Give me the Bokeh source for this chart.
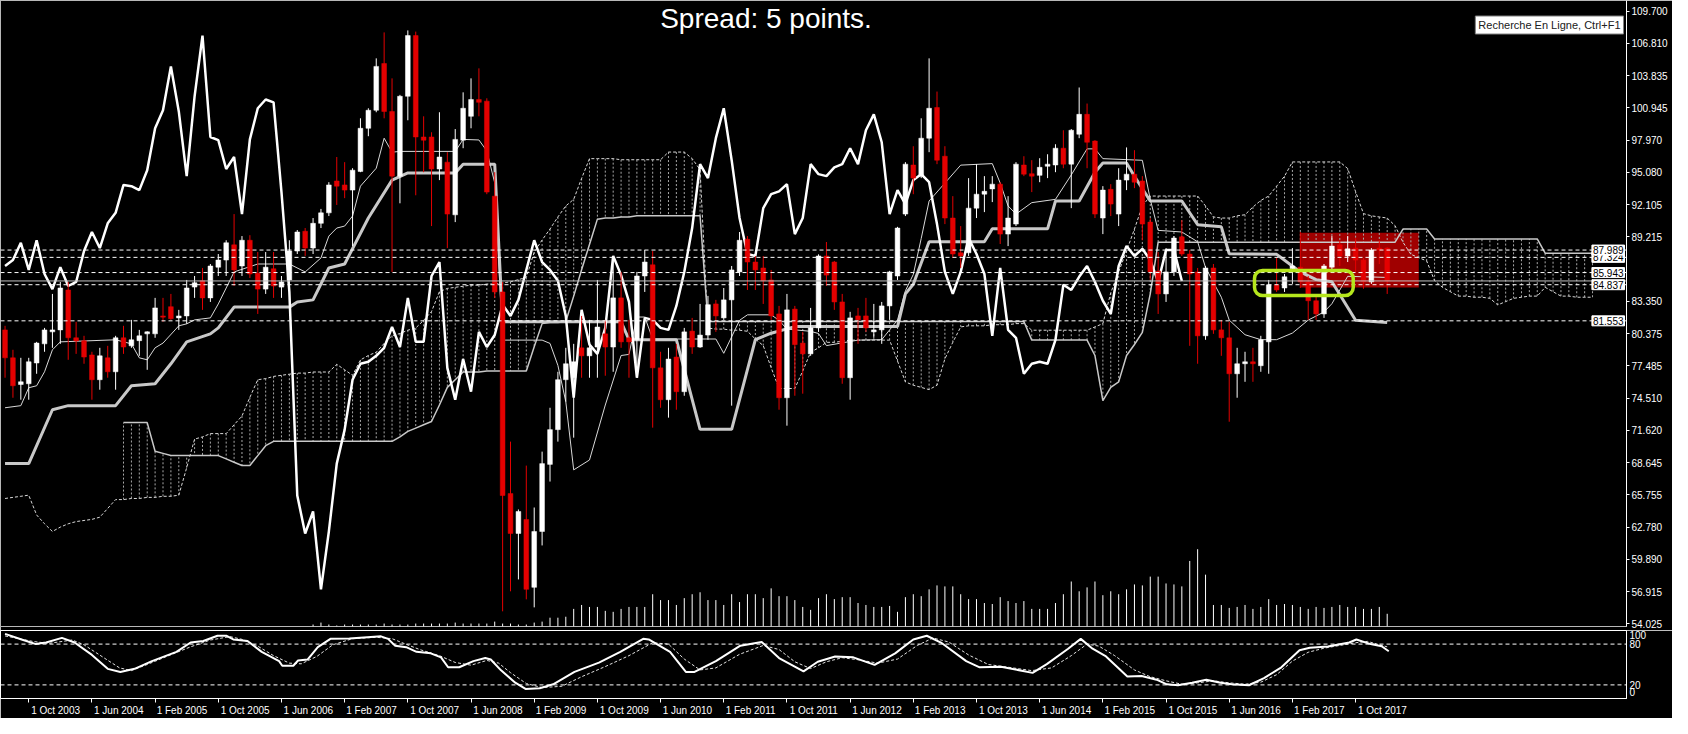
import numpy as np
from bokeh.plotting import figure
from bokeh.layouts import column
from bokeh.models import (Range1d, FixedTicker, PrintfTickFormatter, Span, Label,
                          BoxAnnotation)
from bokeh.embed import file_html
from bokeh.resources import INLINE

# ---------------- data (monthly bars, index 0 = Jul 2003) ----------------
opens = [80.73,78.19,75.76,75.83,77.72,79.46,80.55,80.73,84.36,80.01,
         79.75,78.45,76.20,78.19,76.92,80.01,79.28,79.75,80.37,80.37,
         82.00,82.84,81.82,82.00,84.62,85.20,83.64,86.43,87.08,88.46,
         86.54,88.88,85.89,84.44,86.29,84.62,85.27,87.90,89.70,88.17,
         90.42,91.37,94.27,93.91,93.44,95.14,99.06,100.70,104.95,100.59,
         94.71,101.97,107.49,98.27,98.27,95.36,95.98,91.19,97.98,100.15,
         101.68,101.53,92.89,84.18,65.85,62.22,63.49,57.32,62.40,68.50,
         71.66,76.20,76.38,79.10,78.37,79.17,80.37,79.17,83.64,80.01,
         79.83,85.63,86.65,77.28,74.38,78.26,75.11,80.62,79.17,80.26,
         83.09,81.82,83.46,86.00,88.97,86.90,86.36,85.27,82.18,74.56,
         82.62,79.53,78.55,80.91,87.45,86.90,83.27,76.38,82.00,82.00,
         80.55,80.73,82.91,85.63,91.26,95.72,94.71,98.16,100.95,96.52,
         90.90,87.74,87.74,91.80,93.07,93.55,93.98,89.44,90.35,95.72,
         94.93,94.78,95.61,95.72,97.25,95.80,98.52,100.33,97.90,90.90,
         93.51,91.26,94.35,94.89,94.27,90.53,86.07,84.00,86.00,89.19,
         87.63,86.00,80.19,86.36,80.73,80.01,76.74,77.65,77.83,77.47,
         79.64,84.83,84.54,86.29,86.43,85.09,83.38,82.18,86.43,88.46,
         87.45,88.17,87.08,85.09,88.17,88.17]
highs = [81.10,78.92,78.19,78.19,79.64,80.91,84.00,85.09,85.09,81.46,
         80.19,78.74,79.10,79.28,80.19,81.10,81.64,80.73,80.60,83.64,
         83.64,84.00,82.55,85.27,85.63,86.36,86.72,87.63,88.88,91.26,
         89.26,89.34,87.81,87.81,87.81,85.63,88.88,89.81,89.99,90.90,
         91.73,94.16,96.45,95.98,95.43,99.97,100.88,105.42,107.78,103.60,
         102.10,107.96,107.85,100.15,98.70,100.52,96.89,98.99,102.33,103.60,
         104.51,101.79,95.07,85.09,70.57,64.40,68.39,64.58,69.66,73.65,
         76.92,79.10,79.46,82.00,81.64,85.27,81.64,87.45,86.00,81.64,
         86.00,88.00,87.90,78.74,79.10,79.46,80.91,81.82,83.09,83.82,
         83.46,84.54,86.54,89.63,89.26,87.45,87.45,86.18,82.91,84.00,
         82.91,80.55,82.73,87.60,88.72,87.00,84.00,82.37,82.73,83.64,
         83.09,83.27,86.10,90.10,95.98,97.43,99.97,105.42,102.40,97.43,
         92.89,90.17,94.53,95.80,94.71,94.71,94.16,92.89,95.98,96.52,
         96.16,96.34,96.70,97.61,98.88,98.99,102.77,101.31,97.98,93.80,
         93.98,95.43,97.32,97.07,94.71,90.90,87.81,88.17,89.26,90.71,
         88.00,86.36,86.54,86.72,81.64,81.46,79.10,78.74,79.10,80.19,
         85.27,87.27,85.81,88.17,89.63,85.63,83.82,86.72,89.26,88.88,
         89.26,89.08,87.27,88.17,88.88,88.25]
lows = [76.38,74.56,74.38,74.38,76.74,78.74,79.10,79.46,78.01,78.55,
        77.65,74.38,75.29,76.38,75.29,78.55,79.10,78.37,77.10,80.01,
        81.46,81.64,80.73,81.28,83.64,82.55,83.27,85.63,85.63,84.72,
        85.63,85.45,82.18,84.00,83.64,83.64,84.91,87.63,87.45,87.63,
        89.99,91.08,92.09,92.71,88.35,95.07,98.34,100.52,99.97,86.00,
        92.24,99.79,92.97,95.07,90.17,94.35,88.17,90.53,97.25,99.06,
        100.15,93.07,83.64,55.14,56.96,58.04,56.23,55.50,61.13,66.94,
        70.57,74.20,70.93,76.38,76.38,76.38,76.56,76.92,79.10,76.38,
        76.38,84.18,71.84,73.65,72.75,73.47,74.74,78.55,79.10,79.83,
        80.55,81.64,73.84,85.63,84.36,84.36,83.09,81.64,73.47,72.02,
        74.74,74.93,78.37,80.55,84.72,82.55,75.83,74.38,79.46,80.55,
        80.01,79.46,81.64,85.27,91.08,93.07,94.53,96.89,95.80,90.35,
        87.27,86.36,87.45,90.90,91.44,92.35,88.54,88.35,90.17,94.71,
        93.26,94.16,94.53,95.07,95.43,91.80,98.16,95.43,90.90,89.44,
        91.08,90.17,93.44,93.62,88.88,85.27,82.18,83.27,85.63,87.45,
        79.28,77.65,79.83,80.37,78.37,72.38,74.56,76.01,76.01,76.92,
        76.74,84.18,84.18,84.91,84.54,81.64,81.64,81.82,86.18,86.54,
        86.90,86.00,84.47,84.91,86.72,84.00]
closes = [78.19,75.65,76.01,77.83,79.53,80.73,80.73,84.54,80.01,79.72,
          78.26,76.20,78.37,76.92,80.01,79.17,79.83,80.19,80.55,82.73,
          81.89,81.75,82.00,84.54,85.02,83.64,86.54,87.08,88.65,86.18,
          88.88,85.81,84.44,86.43,84.72,85.09,87.90,89.63,88.17,90.42,
          91.37,93.91,93.80,93.44,95.25,99.06,100.70,104.69,100.59,94.71,
          101.97,107.49,98.27,97.98,95.36,96.45,91.26,98.05,100.88,101.68,
          101.42,93.26,84.18,65.67,62.22,64.22,57.14,62.40,68.57,71.66,
          76.20,77.65,77.83,78.37,79.10,80.99,79.17,83.64,79.64,79.64,
          85.63,86.90,77.28,74.38,78.08,75.11,80.55,79.17,80.26,83.02,
          82.00,83.46,86.18,88.88,86.90,86.18,85.20,82.00,74.56,82.55,
          79.39,78.55,80.91,87.45,85.71,83.27,76.38,81.82,81.64,80.91,
          80.73,82.91,86.00,89.99,95.80,94.53,98.16,100.88,96.16,90.90,
          87.63,87.45,91.80,93.07,93.33,93.98,89.44,90.90,95.80,94.89,
          94.71,95.51,95.80,97.25,95.80,98.88,100.33,97.79,91.26,93.44,
          92.17,94.35,94.89,94.16,90.35,86.00,84.00,86.00,89.08,87.63,
          85.81,80.19,86.36,80.73,80.01,76.74,77.65,77.83,77.65,79.83,
          84.83,84.36,85.56,86.54,85.09,83.38,82.18,86.54,88.35,87.45,
          88.10,87.08,85.09,88.00,88.00,85.18]

volume_start = 39
volume = [2,4,2,1,2,2,2,2,2,3, 2,2,2,3,3,3,3,3,4,3, 3,3,3,5,3,3,2,2,4,5, 9,
          9,10,18,22,20,20,16,15,18,20,
          20,20,33,27,27,22,29,33,35,27,
          27,22,33,25,33,33,29,39,31,31,
          27,20,17,29,33,28,30,30,24,22,
          20,20,21,15,30,33,31,38,42,41,
          41,33,28,28,24,23,30,26,24,26,
          18,18,18,24,33,46,36,40,46,32,
          36,33,38,43,42,51,51,44,43,41,
          67,79,53,22,22,19,20,22,18,20,
          28,22,23,22,20,18,20,19,20,22,
          20,20,18,18,20,13]

tenkan_x = [0,2,3,4,5,6,7,14,16,17,18,19,20,22,23,24,26,27,28,29,32,36,38,40,41,42,43,44,45,
            47,48,49,50,57,58,60,61,62,63,68,69,70,71,72,74,76,78,79,80,81,82,90,91,93,94,97,
            98,99,102,103,104,108,111,113,114,115,116,117,119,121,125,126,127,128,130,133,135,
            137,138,139,144,145,146,149,151,152,154,155,157,159,161,163,165,167,168,170,175]
tenkan_y = [73.65,73.84,75.47,75.65,76.92,78.92,79.64,79.83,79.46,78.19,78.01,79.10,79.53,
            81.10,81.28,81.64,81.82,83.09,84.54,86.00,86.72,86.72,86.00,87.27,89.26,89.99,
            90.17,91.08,93.80,95.43,98.16,96.89,96.96,96.96,98.05,98.00,97.00,94.10,79.80,
            79.80,79.50,77.50,74.20,68.00,68.90,73.90,78.40,78.50,81.90,81.90,79.90,79.90,
            78.60,81.60,82.10,82.10,81.60,80.80,80.60,80.40,79.30,79.80,79.84,81.62,84.29,
            85.77,89.04,92.45,94.08,95.71,95.85,94.08,92.00,91.26,92.30,92.60,94.82,97.19,
            97.19,96.30,96.15,92.60,89.78,89.63,88.74,86.40,83.70,81.62,80.29,79.84,79.84,
            80.44,81.62,82.36,83.11,85.60,85.50]

kijun_x = [0,3,6,8,14,16,19,21,23,26,27,29,36,37,39,41,43,46,49,51,57,58,62,63,78,79,85,88,
           92,95,97,100,113,114,115,117,124,125,132,133,136,138,139,142,143,145,149,151,154,
           155,161,164,166,168,171,175]
kijun_y = [68.57,68.57,73.47,73.84,73.84,75.65,75.83,77.65,79.64,80.37,80.91,82.80,82.80,
           83.27,83.46,86.36,86.72,90.90,94.35,95.00,95.00,95.80,95.80,81.47,81.47,79.84,
           79.84,71.69,71.69,79.84,80.43,81.03,81.03,84.00,84.88,88.74,88.74,89.92,89.92,
           92.45,92.45,95.07,95.90,95.90,94.70,92.45,92.45,90.30,90.10,87.65,87.60,86.00,
           85.30,85.10,81.60,81.40]

senkou_a = [65.4,65.5,65.6,65.7,63.9,63.1,62.4,62.8,63.1,63.3,
            63.4,63.5,63.7,64.5,65.3,65.3,65.4,65.4,65.5,65.5,
            65.6,65.6,65.7,68.2,70.8,71.0,71.3,71.3,71.3,72.1,
            72.9,74.6,76.2,76.3,76.5,76.6,76.7,76.8,76.8,76.9,
            76.9,76.9,77.6,77.1,76.6,78.0,78.4,78.7,79.5,80.2,
            80.4,80.7,80.9,81.6,82.4,84.2,84.5,84.6,84.7,84.8,
            84.8,84.9,84.9,85.0,85.1,85.3,85.5,87.8,88.9,89.9,
            91.0,92.0,92.6,94.5,96.3,96.3,96.3,96.3,96.2,96.2,
            96.2,96.2,96.2,96.2,96.9,96.9,96.9,96.3,95.3,80.9,
            80.8,80.8,80.7,80.7,80.6,79.9,79.3,77.3,75.4,75.4,
            75.4,77.0,78.7,79.1,79.6,79.6,79.7,79.8,79.8,79.8,
            79.8,79.8,79.8,77.9,76.0,75.7,75.5,75.3,75.7,78.1,
            79.6,81.0,81.1,81.1,81.1,81.2,81.2,81.2,81.3,81.3,
            80.7,80.7,80.7,80.7,80.7,80.7,80.7,80.7,81.0,81.3,
            84.1,86.0,87.9,89.9,92.0,92.9,92.9,92.9,92.9,92.9,
            92.9,92.9,92.0,91.0,90.9,90.9,91.1,91.2,91.9,92.5,
            92.9,93.8,94.7,96.0,96.0,96.0,96.0,96.0,96.0,96.0,
            95.4,93.3,91.3,91.1,91.0,90.9,90.2,88.7,87.6,87.3,
            87.0,85.2,84.6,84.2,83.8,83.8,83.7,83.7,83.6,83.0,
            83.3,83.6,83.7,83.8,83.8,84.6,84.2,83.8,83.8,83.7,
            83.7,83.7]
senkou_b_start = 15
senkou_b = [72.3,72.3,72.3,72.3,69.7,69.5,69.3,69.3,69.3,69.3,
            69.3,69.3,69.3,69.0,68.7,68.4,68.4,69.3,70.2,70.6,
            70.6,70.6,70.6,70.6,70.6,70.6,70.6,70.6,70.6,70.6,
            70.6,70.6,70.6,70.6,70.6,71.0,71.5,71.8,72.1,72.4,
            73.9,75.5,76.2,76.9,76.9,76.9,77.0,77.0,77.0,77.0,
            77.0,77.0,79.2,81.3,81.4,81.4,81.5,83.8,86.2,88.5,
            90.8,90.9,90.9,91.0,91.0,91.1,91.1,91.1,91.1,91.1,
            91.1,91.1,91.1,91.1,81.5,81.5,81.5,81.5,81.5,81.5,
            81.5,81.5,81.5,81.5,81.5,81.5,81.5,81.5,81.5,81.5,
            81.5,81.5,81.5,81.5,81.5,81.5,81.5,81.5,81.5,81.5,
            81.5,81.5,81.5,81.5,81.5,81.5,81.5,81.5,81.5,81.5,
            81.5,81.5,81.5,81.5,81.5,
            79.8,79.8,79.8,79.8,79.8,79.8,79.8,79.8,78.4,74.3,
            75.5,76.0,78.4,79.4,80.5,84.0,88.7,88.7,88.7,88.7,
            88.7,88.7,88.7,88.7,88.7,88.7,88.7,88.7,88.7,88.7,
            88.7,88.7,88.7,88.7,88.7,88.7,88.7,88.7,88.7,88.7,
            88.7,88.7,88.7,88.7,88.7,88.7,88.7,
            89.9,89.9,89.9,89.9,
            89.0,89.0,89.0,89.0,89.0,89.0,89.0,89.0,89.0,89.0,89.0,89.0,89.0,89.0,
            87.7,87.7,87.7,87.7,87.7,87.7,87.7]

stoch_x = [0,2.1,3.9,5.2,7.2,8.8,11.0,13.0,14.6,16.4,18.6,21.7,23.5,25.1,26.9,28.0,28.9,30.7,
           32.5,34.7,35.1,36.5,37.1,38.3,39.6,41.2,43.6,46.3,47.6,48.5,49.4,50.8,52.1,53.9,
           55.2,56.1,57.5,59.3,60.8,61.5,62.8,64.6,65.9,67.7,69.4,72.1,75.2,77.9,80.8,81.5,
           84.2,86.2,87.3,90.0,93.1,95.8,98.0,101.1,102.9,105.1,107.4,110.1,112.7,115.0,
           116.7,118.5,121.7,123.4,126.1,130.1,131.9,134.6,136.2,137.7,139.4,142.1,143.9,
           145.8,147.1,148.5,150.3,152.1,153.9,155.3,157.5,159.4,161.6,163.9,165.2,167.5,
           170.2,171.1,172.9,174.3,175.2]
stoch_main = [95,86.8,80,82.3,89.1,82.3,64.1,43.6,39.1,43.6,55,68.6,82.3,84.5,92.3,92.3,86.8,
              84.5,68.6,55,48.2,48.2,55.9,57.3,75.5,87.7,88.2,90.5,91.4,87.7,77.7,75.5,68.6,
              66.4,60.5,45.9,45.9,55,59.5,57.3,41.4,23.2,14.1,15,20.9,39.1,52.7,68.6,87.7,
              86.8,68.6,39.1,39.1,55,77.7,83.2,59.5,40,54.1,61.8,60.5,49.5,66.4,86.8,92.3,
              82.3,55,45.9,46.8,37.7,50.5,73.2,87.7,73.2,61.8,32.3,33.2,27.7,20.9,19.5,23.2,
              27.7,23.2,20.9,19.5,30,45.9,70.9,74.5,76.4,82.3,86.8,80,76.8,69.5]
signal_x = [0,3.5,5.5,8.5,10,12.5,14.5,16,18,20.5,23.5,26,28.5,30,32,34,36,37.5,39.5,41.5,
            44,47,49,50.5,52.5,55,57,59,61,62.5,64,66,68,70.5,73,76,79,82,84,86,88,90,93,96,
            98,100,102,104,106,108,110.5,113,115.5,117.5,119.5,122,124.5,127,130,132.5,135,
            137,138.5,140.5,143,145,147,149,151,153,155,157,159,161,163,165,167,169,171,
            172.5,174,175]
stoch_signal = [92,84,81,86,79,60,45,41,50,62,76,86,91,87,77,63,52,51,62,79,88,90,88,81,72,
                63,53,49,56,52,38,22,16,18,32,47,63,82,80,58,42,45,65,78,72,54,44,54,60,57,
                52,58,78,89,83,64,50,46,41,45,63,80,77,63,42,32,26,21,23,26,23,21,24,35,55,
                68,74,78,82,84,79,76]

price_ticks = [109.700,106.810,103.835,100.945,97.970,95.080,92.105,89.215,83.350,80.375,
               77.485,74.510,71.620,68.645,65.755,62.780,59.890,56.915,54.025]
level_lines = [87.989, 87.324, 85.943, 84.837, 81.553]
bid_price = 85.18
date_pos = [3 + 8 * k for k in range(22)]
date_labels = ["1 Oct 2003","1 Jun 2004","1 Feb 2005","1 Oct 2005","1 Jun 2006","1 Feb 2007",
               "1 Oct 2007","1 Jun 2008","1 Feb 2009","1 Oct 2009","1 Jun 2010","1 Feb 2011",
               "1 Oct 2011","1 Jun 2012","1 Feb 2013","1 Oct 2013","1 Jun 2014","1 Feb 2015",
               "1 Oct 2015","1 Jun 2016","1 Feb 2017","1 Oct 2017"]
red_zone = dict(left=164, right=179, bottom=84.59, top=89.57)
green_box = dict(left=158.2, right=170.7, bottom=83.85, top=86.13)
title_text = "Spread: 5 points."
tip_text = "Recherche En Ligne, Ctrl+F1"

# ---------------- figures ----------------
W = 1672
MAIN_H = 630
SUB_H = 88
RB = 46
FONT = "Liberation Sans"
x_range = Range1d(-0.575, 205.3)
y_top, y_bot = 110.68, 53.76

p = figure(width=W, height=MAIN_H, x_range=x_range, y_range=Range1d(y_bot, y_top),
           output_backend="svg", toolbar_location=None, x_axis_location=None,
           y_axis_location="right", background_fill_color="black", border_fill_color="black",
           min_border_left=0, min_border_top=0, min_border_bottom=4, min_border_right=RB,
           outline_line_color="#B8B8B8")
p.grid.visible = False
p.extra_y_ranges = {"vol": Range1d(0, 640)}

idx = np.arange(len(opens))
o = np.array(opens); h = np.array(highs); l = np.array(lows); c = np.array(closes)
bull = c >= o
colors = np.where(bull, "#FFFFFF", "#E40000")

p.add_layout(BoxAnnotation(level="underlay", fill_color="#A00000", fill_alpha=1.0,
                           line_color=None, **red_zone))

# volumes
vx = np.arange(volume_start, volume_start + len(volume))
p.segment(x0=vx, y0=0, x1=vx, y1=volume, y_range_name="vol", line_color="white", line_width=1)

# cloud hatch
a = np.array(senkou_a); b = np.array(senkou_b)
bx = np.arange(senkou_b_start, senkou_b_start + len(b))
p.segment(x0=bx, y0=a[bx], x1=bx, y1=b, line_color="#A8A8A8", line_width=1, line_dash="2 2")
p.line(np.arange(len(a)), a, line_color="#D8D8D8", line_width=1, line_dash="3 2")
p.line(bx, b, line_color="#C8C8C8", line_width=1.5)

p.line(kijun_x, kijun_y, line_color="#C8C8C8", line_width=3)
p.line(tenkan_x, tenkan_y, line_color="#D8D8D8", line_width=1)
p.line(idx[:-26], c[26:], line_color="white", line_width=2.5)

# candles
p.segment(x0=idx, y0=h, x1=idx, y1=l, line_color=colors, line_width=1)
p.vbar(x=idx, width=0.6, top=np.maximum(o, c), bottom=np.minimum(o, c),
       fill_color=colors, line_color=colors, line_width=0.5)

for v in level_lines:
    p.add_layout(Span(location=v, dimension="width", line_color="white",
                      line_dash="4 3", line_width=1))
p.add_layout(Span(location=bid_price, dimension="width", line_color="#C0C0C0", line_width=1))

p.add_layout(BoxAnnotation(fill_alpha=0, line_color="#B5E61D", line_alpha=1.0,
                           line_width=3.5, border_radius=8, **green_box))

p.yaxis.ticker = FixedTicker(ticks=price_ticks)
p.yaxis.formatter = PrintfTickFormatter(format="%.3f")
p.yaxis.major_label_text_color = "white"
p.yaxis.major_label_text_font = FONT
p.yaxis.major_label_text_font_size = "10px"
p.yaxis.axis_line_color = "white"
p.yaxis.major_tick_line_color = "white"
p.yaxis.major_tick_out = 3
p.yaxis.major_tick_in = 0
p.yaxis.minor_tick_line_color = None
p.yaxis.major_label_standoff = 2

for v in sorted(level_lines):
    p.add_layout(Label(x=x_range.end, y=v, x_offset=-2, text=f"{v:.3f}", text_color="black",
                       text_font=FONT, text_font_size="10px", text_baseline="middle",
                       text_align="right", background_fill_color="white",
                       border_line_color="white", padding=1))

p.add_layout(Label(x=96.35, y=110.45, text=title_text, text_color="white", text_font=FONT,
                   text_font_size="28px", text_align="center", text_baseline="top"))
p.add_layout(Label(x=x_range.end, y=108.45, x_offset=-3, text=tip_text, text_color="#202020",
                   text_font=FONT, text_font_size="11px", text_baseline="middle",
                   text_align="right", background_fill_color="white",
                   border_line_color="#808080", padding=3))

# ---------------- stochastic panel ----------------
s = figure(width=W, height=SUB_H, x_range=x_range, y_range=Range1d(0, 100),
           output_backend="svg", toolbar_location=None, y_axis_location="right",
           background_fill_color="black", border_fill_color="black",
           min_border_left=0, min_border_top=0, min_border_bottom=0, min_border_right=RB,
           outline_line_color="white")
s.grid.visible = False
for v in (80, 20):
    s.add_layout(Span(location=v, dimension="width", line_color="white",
                      line_dash="4 3", line_width=1))
s.line(signal_x, stoch_signal, line_color="#E0E0E0", line_width=1, line_dash="3 2")
s.line(stoch_x, stoch_main, line_color="white", line_width=2)

centers = [t + 3.4 for t in date_pos]
s.xaxis.ticker = FixedTicker(ticks=centers, minor_ticks=date_pos)
s.xaxis.major_label_overrides = {cx: lab for cx, lab in zip(centers, date_labels)}
s.xaxis.major_tick_out = 0
s.xaxis.major_tick_in = 0
s.xaxis.minor_tick_out = 4
s.xaxis.minor_tick_in = 0
s.xaxis.minor_tick_line_color = "white"
s.xaxis.axis_line_color = "white"
s.xaxis.major_label_text_color = "white"
s.xaxis.major_label_text_font = FONT
s.xaxis.major_label_text_font_size = "10px"
s.xaxis.major_label_standoff = 2

s.yaxis.ticker = FixedTicker(ticks=[93, 80, 20, 9])
s.yaxis.major_label_overrides = {93: "100", 80: "80", 20: "20", 9: "0"}
s.yaxis.major_tick_out = 0
s.yaxis.major_tick_in = 0
s.yaxis.minor_tick_line_color = None
s.yaxis.axis_line_color = "white"
s.yaxis.major_label_text_color = "white"
s.yaxis.major_label_text_font = FONT
s.yaxis.major_label_text_font_size = "10px"
s.yaxis.major_label_standoff = 3

layout = column(p, s, spacing=0)
open("out.html", "w").write(file_html(layout, INLINE))
